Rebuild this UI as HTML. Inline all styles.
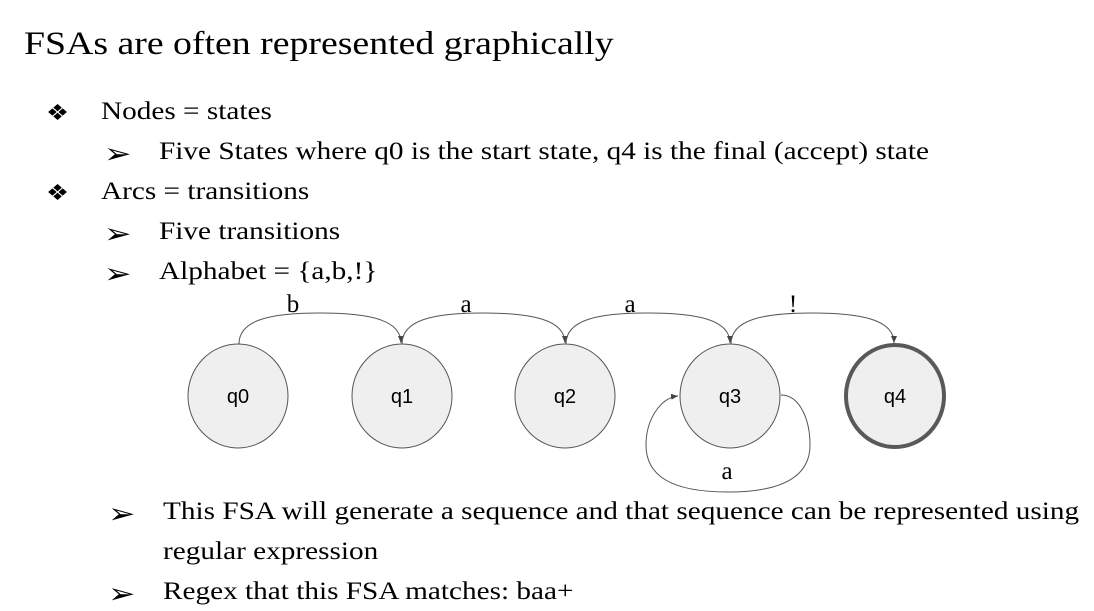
<!DOCTYPE html>
<html><head><style>
body{margin:0;width:1094px;height:610px;background:#fff;overflow:hidden;position:relative;font-family:"Liberation Serif",serif;color:#000}
.t{position:absolute;white-space:nowrap;transform-origin:0 0;transform:scaleX(1.17)}
</style></head><body>
<div class="t" style="left:24px;top:26px;font-size:33px;transform:scaleX(1.145)">FSAs are often represented graphically</div>
<div class="t" style="left:46px;top:100px;font-size:22px">❖</div>
<div class="t" style="left:101px;top:98px;font-size:25px">Nodes = states</div>
<div class="t" style="left:104px;top:137px;font-size:28px">➢</div>
<div class="t" style="left:159px;top:138px;font-size:25px">Five States where q0 is the start state, q4 is the final (accept) state</div>
<div class="t" style="left:46px;top:180px;font-size:22px">❖</div>
<div class="t" style="left:101px;top:178px;font-size:25px">Arcs = transitions</div>
<div class="t" style="left:104px;top:217px;font-size:28px">➢</div>
<div class="t" style="left:159px;top:218px;font-size:25px">Five transitions</div>
<div class="t" style="left:104px;top:257px;font-size:28px">➢</div>
<div class="t" style="left:159px;top:258px;font-size:25px">Alphabet = {a,b,!}</div>
<div class="t" style="left:108px;top:497px;font-size:28px">➢</div>
<div class="t" style="left:163px;top:498px;font-size:25px">This FSA will generate a sequence and that sequence can be represented using</div>
<div class="t" style="left:163px;top:538px;font-size:25px">regular expression</div>
<div class="t" style="left:108px;top:577px;font-size:28px">➢</div>
<div class="t" style="left:163px;top:578px;font-size:25px">Regex that this FSA matches: baa+</div>
<svg width="1094" height="610" style="position:absolute;left:0;top:0">
<defs><marker id="a" markerWidth="8" markerHeight="8" refX="7" refY="4" orient="auto" markerUnits="userSpaceOnUse"><path d="M0,1 L7,4 L0,7 z" fill="#444"/></marker></defs>
<g fill="#efefef" stroke="#555" stroke-width="1">
<ellipse cx="238" cy="396" rx="50" ry="52"/><ellipse cx="402" cy="396" rx="50" ry="52"/><ellipse cx="565" cy="396" rx="50" ry="52"/><ellipse cx="730" cy="396" rx="50" ry="52"/>
</g>
<ellipse cx="895" cy="396" rx="49" ry="51" fill="#efefef" stroke="#595959" stroke-width="4"/>
<g fill="none" stroke="#555" stroke-width="1">
<path d="M239,344 C239,320 270,313 320,313 C370,313 401,320 401,343" marker-end="url(#a)"/>
<path d="M402,344 C402,320 433,313 483,313 C533,313 565,320 565,343" marker-end="url(#a)"/>
<path d="M566,344 C566,320 597,313 648,313 C698,313 730,320 730,343" marker-end="url(#a)"/>
<path d="M731,344 C731,320 762,313 812,313 C862,313 894,320 894,343" marker-end="url(#a)"/>
<path d="M781,395 C800,395 810,420 810,445 C810,475 785,492 728,492 C670,492 646,475 646,445 C646,420 660,398 678,396" marker-end="url(#a)"/>
</g>
<g font-family="Liberation Sans, sans-serif" font-size="20" text-anchor="middle">
<text x="238" y="403">q0</text><text x="402" y="403">q1</text><text x="565" y="403">q2</text><text x="730" y="403">q3</text><text x="895" y="403">q4</text>
</g>
<g font-family="Liberation Serif, serif" font-size="25" text-anchor="middle">
<text x="293" y="312">b</text><text x="466" y="312">a</text><text x="630" y="312">a</text><text x="793" y="312">!</text><text x="727" y="479">a</text>
</g>
</svg>
</body></html>
